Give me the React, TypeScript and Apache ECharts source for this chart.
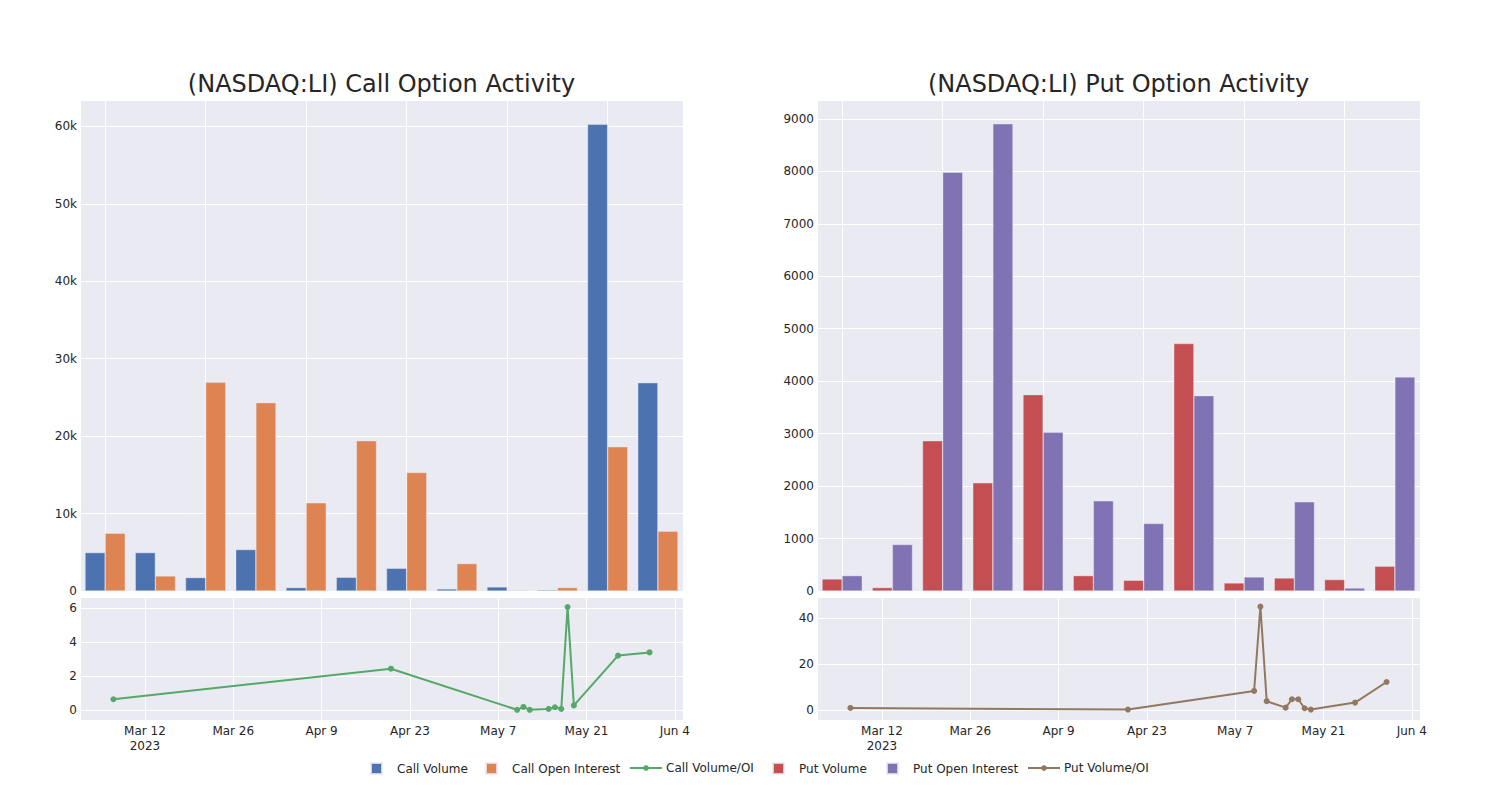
import React, { useEffect, useRef } from "react";
import * as echarts from "echarts";

// ---- data ----
const dates = [
  "2023-03-07", "2023-04-20", "2023-05-10", "2023-05-11", "2023-05-12", "2023-05-15",
  "2023-05-16", "2023-05-17", "2023-05-18", "2023-05-19", "2023-05-26", "2023-05-31",
];
const callVolume = [4960, 4960, 1730, 5350, 440, 1770, 2930, 260, 520, 130, 60260, 26900];
const callOpenInterest = [7460, 1940, 26940, 24310, 11380, 19400, 15300, 3540, 90, 440, 18620, 7720];
const callVolOI = [0.63, 2.43, 0.01, 0.18, 0.01, 0.06, 0.16, 0.06, 6.06, 0.27, 3.2, 3.39];
const putVolume = [229, 65, 2864, 2062, 3743, 293, 204, 4717, 153, 248, 218, 472];
const putOpenInterest = [293, 886, 7982, 8906, 3025, 1719, 1287, 3724, 267, 1700, 57, 4080];
const putVolOI = [0.87, 0.15, 8.3, 45.1, 3.8, 1.0, 4.65, 4.65, 0.73, 0.15, 3.2, 12.2];
const timeTickLabels = ["Mar 12\n2023", "Mar 26", "Apr 9", "Apr 23", "May 7", "May 21", "Jun 4"];
const titles = ["(NASDAQ:LI) Call Option Activity", "(NASDAQ:LI) Put Option Activity"];

const BASE = Date.UTC(2023, 2, 12);
const DAY = 86400000;
const dayOf = (s: string) => (Date.parse(s + "T00:00:00Z") - BASE) / DAY;

const BG = "#EAEAF2";
const TXT = "#262626";
const FONT = "DejaVu Sans";

const timeLabel = (v: number) => {
  const i = Math.round(v / 14);
  return Math.abs(v - i * 14) < 1e-6 && i >= 0 && i < timeTickLabels.length ? timeTickLabels[i] : "";
};

export default function App() {
  const ref = useRef<HTMLDivElement>(null);
  useEffect(() => {
    if (!ref.current) return;
    const chart = echarts.init(ref.current, undefined, { renderer: "svg" });

    const L = [80, 817];
    const W = 603;
    const grids = [
      { left: L[0], top: 100, width: W, height: 491 },
      { left: L[0], top: 597, width: W, height: 123 },
      { left: L[1], top: 100, width: W, height: 491 },
      { left: L[1], top: 597, width: W, height: 123 },
    ].map((g) => ({ ...g, show: true, backgroundColor: BG, borderWidth: 0, containLabel: false }));

    const split = { show: true, lineStyle: { color: "#ffffff", width: 1 } };
    const common = {
      axisLine: { show: false },
      axisTick: { show: false },
      splitLine: split,
    };
    const barX = (gi: number) => ({
      type: "value",
      gridIndex: gi,
      min: -0.5,
      max: 11.5,
      minInterval: 2,
      maxInterval: 2,
      axisLabel: { show: false },
      ...common,
    });
    const timeX = (gi: number) => ({
      type: "value",
      gridIndex: gi,
      min: -10.3,
      max: 85.3,
      minInterval: 14,
      maxInterval: 14,
      axisLabel: {
        show: true,
        showMinLabel: false,
        showMaxLabel: false,
        color: TXT,
        fontSize: 12,
        fontFamily: FONT,
        margin: 3,
        lineHeight: 15,
        formatter: (v: number) => timeLabel(v),
      },
      ...common,
    });
    const yLabel = (extra: any) => ({
      show: true,
      color: TXT,
      fontSize: 12,
      fontFamily: FONT,
      margin: 3,
      ...extra,
    });

    const barItem = (color: string) => ({
      color,
      borderColor: "rgba(234,234,242,0.8)",
      borderWidth: 0.5,
    });
    const bar = (name: string, vals: number[], xi: number, color: string) => ({
      name,
      type: "bar",
      xAxisIndex: xi,
      yAxisIndex: xi,
      data: vals.map((v, i) => [i, v]),
      barGap: "0%",
      barCategoryGap: "20%",
      itemStyle: barItem(color),
    });
    const line = (name: string, vals: number[], xi: number, color: string) => ({
      name,
      type: "line",
      xAxisIndex: xi,
      yAxisIndex: xi,
      data: dates.map((d, i) => [dayOf(d), vals[i]]),
      symbol: "circle",
      symbolSize: 6,
      showSymbol: true,
      lineStyle: { width: 2, color },
      itemStyle: { color },
    });

    const legendTop = 762;
    const legendItem = (name: string, left: number, isLine: boolean) => ({
      data: [isLine ? { name } : { name, icon: "rect" }],
      left,
      top: legendTop,
      orient: "horizontal",
      padding: 0,
      itemWidth: isLine ? 32 : 11,
      itemHeight: isLine ? 7 : 11,
      textStyle: {
        color: TXT,
        fontSize: 12,
        fontFamily: FONT,
        padding: isLine ? [0, 0, 0, -1] : [0, 0, 0, 10],
      },
      selectedMode: false,
    });

    const option: any = {
      animation: false,
      backgroundColor: "#ffffff",
      textStyle: { fontFamily: FONT },
      graphic: [
        {
          type: "text",
          x: L[0] + W / 2,
          y: 84,
          style: { text: titles[0], fontSize: 24, fontFamily: FONT, fill: TXT, align: "center", verticalAlign: "middle" },
        },
        {
          type: "text",
          x: L[1] + W / 2,
          y: 84,
          style: { text: titles[1], fontSize: 24, fontFamily: FONT, fill: TXT, align: "center", verticalAlign: "middle" },
        },
      ],
      grid: grids,
      xAxis: [barX(0), timeX(1), barX(2), timeX(3)],
      yAxis: [
        {
          type: "value",
          gridIndex: 0,
          min: 0,
          max: 63400,
          interval: 10000,
          axisLabel: yLabel({
            showMaxLabel: false,
            formatter: (v: number) => (v === 0 ? "0" : v / 1000 + "k"),
          }),
          ...common,
        },
        {
          type: "value",
          gridIndex: 1,
          min: -0.59,
          max: 6.65,
          minInterval: 2,
          maxInterval: 2,
          axisLabel: yLabel({ showMinLabel: false, showMaxLabel: false, formatter: (v: number) => String(v) }),
          ...common,
        },
        {
          type: "value",
          gridIndex: 2,
          min: 0,
          max: 9360,
          interval: 1000,
          axisLabel: yLabel({ showMaxLabel: false, formatter: (v: number) => String(v) }),
          ...common,
        },
        {
          type: "value",
          gridIndex: 3,
          min: -4.4,
          max: 49.3,
          minInterval: 20,
          maxInterval: 20,
          axisLabel: yLabel({ showMinLabel: false, showMaxLabel: false, formatter: (v: number) => String(v) }),
          ...common,
        },
      ],
      legend: [
        legendItem("Call Volume", 370, false),
        legendItem("Call Open Interest", 485, false),
        legendItem("Call Volume/OI", 629, true),
        legendItem("Put Volume", 772, false),
        legendItem("Put Open Interest", 886, false),
        legendItem("Put Volume/OI", 1027, true),
      ],
      series: [
        bar("Call Volume", callVolume, 0, "#4C72B0"),
        bar("Call Open Interest", callOpenInterest, 0, "#DD8452"),
        line("Call Volume/OI", callVolOI, 1, "#55A868"),
        bar("Put Volume", putVolume, 2, "#C44E52"),
        bar("Put Open Interest", putOpenInterest, 2, "#8172B3"),
        line("Put Volume/OI", putVolOI, 3, "#937860"),
      ],
    };
    chart.setOption(option);
    return () => chart.dispose();
  }, []);

  return (
    <div
      ref={ref}
      style={{ position: "fixed", left: 0, top: 0, width: 1500, height: 800, background: "#fff" }}
    />
  );
}
